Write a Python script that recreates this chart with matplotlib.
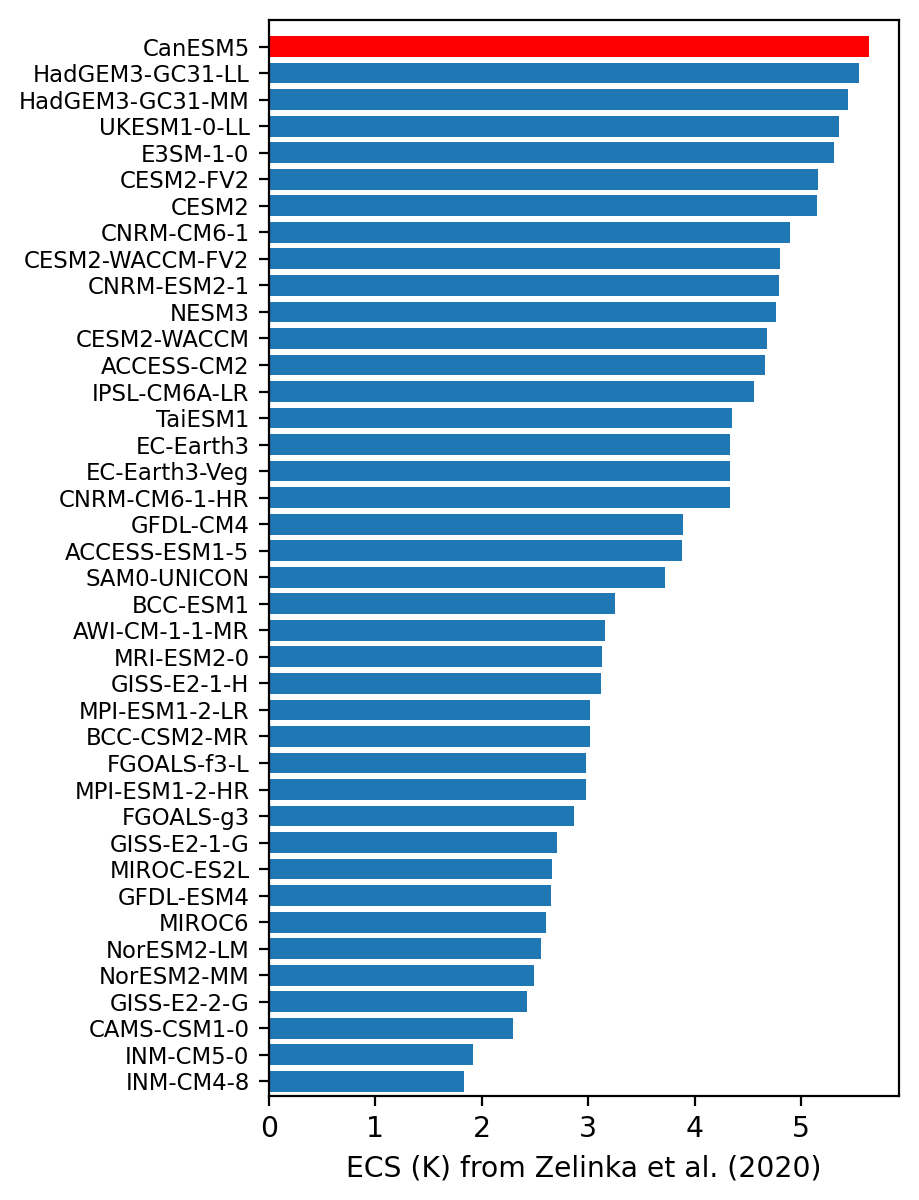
import matplotlib
matplotlib.use("Agg")
import matplotlib.pyplot as plt

models = [
    "CanESM5", "HadGEM3-GC31-LL", "HadGEM3-GC31-MM", "UKESM1-0-LL", "E3SM-1-0",
    "CESM2-FV2", "CESM2", "CNRM-CM6-1", "CESM2-WACCM-FV2", "CNRM-ESM2-1",
    "NESM3", "CESM2-WACCM", "ACCESS-CM2", "IPSL-CM6A-LR", "TaiESM1",
    "EC-Earth3", "EC-Earth3-Veg", "CNRM-CM6-1-HR", "GFDL-CM4", "ACCESS-ESM1-5",
    "SAM0-UNICON", "BCC-ESM1", "AWI-CM-1-1-MR", "MRI-ESM2-0", "GISS-E2-1-H",
    "MPI-ESM1-2-LR", "BCC-CSM2-MR", "FGOALS-f3-L", "MPI-ESM1-2-HR", "FGOALS-g3",
    "GISS-E2-1-G", "MIROC-ES2L", "GFDL-ESM4", "MIROC6", "NorESM2-LM",
    "NorESM2-MM", "GISS-E2-2-G", "CAMS-CSM1-0", "INM-CM5-0", "INM-CM4-8",
]
ecs = [
    5.64, 5.55, 5.44, 5.36, 5.31,
    5.16, 5.15, 4.90, 4.80, 4.79,
    4.77, 4.68, 4.66, 4.56, 4.35,
    4.33, 4.33, 4.33, 3.89, 3.88,
    3.72, 3.25, 3.16, 3.13, 3.12,
    3.02, 3.02, 2.98, 2.98, 2.87,
    2.71, 2.66, 2.65, 2.60, 2.56,
    2.49, 2.43, 2.29, 1.92, 1.83,
]
highlight = "CanESM5"

fig = plt.figure(figsize=(4.595, 6.0), dpi=200)
ax = fig.add_axes([0.2927, 0.0867, 0.9782 - 0.2927, 0.9833 - 0.0867])

n = len(models)
ypos = [n - 1 - i for i in range(n)]
colors = ["red" if m == highlight else "#1f77b4" for m in models]
ax.barh(ypos, ecs, height=0.78, color=colors)
ax.set_yticks(ypos)
ax.set_yticklabels(models, fontsize=8.2)
ax.set_ylim(-0.55, n)
ax.tick_params(axis="x", labelsize=10.2)
ax.set_xlabel("ECS (K) from Zelinka et al. (2020)", fontsize=10.2)

fig.savefig("out.png", dpi=200)
